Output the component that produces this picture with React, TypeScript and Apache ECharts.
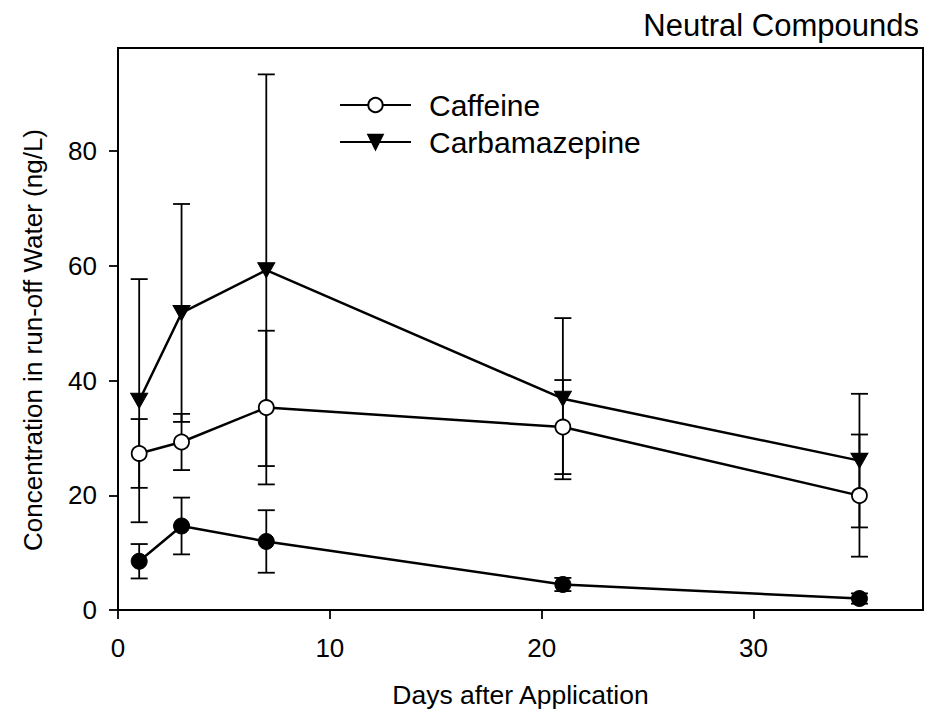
import React, { useEffect, useRef } from "react";
import * as echarts from "echarts";

const days = [1, 3, 7, 21, 35];
const caffeine = [27.3, 29.3, 35.3, 31.9, 19.95];
const caffeineErr = [6.0, 4.9, 13.4, 8.2, 10.65];
const carbamazepine = [36.5, 51.8, 59.25, 36.85, 26.05];
const carbamazepineErr = [21.2, 19.0, 34.15, 14.05, 11.65];
const thirdCompound = [8.5, 14.65, 11.95, 4.45, 2.0];
const thirdCompoundErr = [3.0, 4.95, 5.45, 1.15, 0.9];
const xTicks = [0, 10, 20, 30];
const yTicks = [0, 20, 40, 60, 80];
const yTitle = "Concentration in run-off Water (ng/L)";

const FONT = "Liberation Sans, Arial, Helvetica, sans-serif";

function errData(vals: number[], errs: number[]) {
  return days.map((d, i) => [d, vals[i] - errs[i], vals[i] + errs[i]]);
}

function renderErr(params: any, api: any) {
  const x = api.value(0);
  const lo = api.value(1);
  const hi = api.value(2);
  const pHi = api.coord([x, hi]);
  const pLo = api.coord([x, lo]);
  const w = 8.5;
  const style = { stroke: "#000", lineWidth: 1.8 };
  return {
    type: "group",
    children: [
      { type: "line", shape: { x1: pHi[0], y1: pHi[1], x2: pLo[0], y2: pLo[1] }, style },
      { type: "line", shape: { x1: pHi[0] - w, y1: pHi[1], x2: pHi[0] + w, y2: pHi[1] }, style },
      { type: "line", shape: { x1: pLo[0] - w, y1: pLo[1], x2: pLo[0] + w, y2: pLo[1] }, style },
    ],
  };
}

export default function App() {
  const ref = useRef<HTMLDivElement>(null);
  useEffect(() => {
    if (!ref.current) return;
    const chart = echarts.init(ref.current, undefined, { renderer: "svg" });
    const pts = (vals: number[]) => days.map((d, i) => [d, vals[i]]);
    chart.setOption({
      animation: false,
      backgroundColor: "#fff",
      textStyle: { fontFamily: FONT, color: "#000" },
      title: {
        text: "Neutral Compounds",
        right: 6,
        top: 10,
        padding: 0,
        textStyle: { fontFamily: FONT, fontSize: 31, fontWeight: "normal", color: "#000" },
      },
      graphic: [
        {
          type: "text",
          x: 33,
          y: 340,
          rotation: Math.PI / 2,
          style: {
            text: yTitle,
            fontFamily: FONT,
            fontSize: 26,
            fill: "#000",
            align: "center",
            verticalAlign: "middle",
          },
        },
      ],
      legend: {
        data: ["Caffeine", "Carbamazepine"],
        orient: "vertical",
        left: 339,
        top: 90,
        padding: 0,
        itemWidth: 71,
        itemHeight: 18,
        itemGap: 7,
        textStyle: {
          fontFamily: FONT,
          fontSize: 30,
          color: "#000",
          padding: [0, 0, 0, 13],
        },
      },
      grid: {
        left: 118,
        right: 2,
        top: 48,
        bottom: 102,
        show: true,
        borderColor: "#000",
        borderWidth: 2,
        backgroundColor: "transparent",
      },
      xAxis: {
        type: "value",
        min: 0,
        max: 38,
        name: "Days after Application",
        nameLocation: "middle",
        nameGap: 71,
        nameTextStyle: { fontFamily: FONT, fontSize: 26.5, color: "#000" },
        axisLine: { show: true, lineStyle: { color: "#000", width: 2 } },
        axisTick: { show: true, length: 9, inside: false, customValues: xTicks, lineStyle: { color: "#000", width: 1.8 } },
        axisLabel: { customValues: xTicks, margin: 25, fontFamily: FONT, fontSize: 26, color: "#000" },
        splitLine: { show: false },
      },
      yAxis: {
        type: "value",
        min: 0,
        max: 98,
        axisLine: { show: true, lineStyle: { color: "#000", width: 2 } },
        axisTick: { show: true, length: 9, inside: false, customValues: yTicks, lineStyle: { color: "#000", width: 1.8 } },
        axisLabel: { customValues: yTicks, margin: 21, fontFamily: FONT, fontSize: 26, color: "#000" },
        splitLine: { show: false },
      },
      series: [
        {
          type: "custom",
          name: "Caffeine error",
          renderItem: renderErr,
          data: errData(caffeine, caffeineErr),
          encode: { x: 0, y: [1, 2] },
          z: 2,
          silent: true,
        },
        {
          type: "custom",
          name: "Carbamazepine error",
          renderItem: renderErr,
          data: errData(carbamazepine, carbamazepineErr),
          encode: { x: 0, y: [1, 2] },
          z: 2,
          silent: true,
        },
        {
          type: "custom",
          name: "Third compound error",
          renderItem: renderErr,
          data: errData(thirdCompound, thirdCompoundErr),
          encode: { x: 0, y: [1, 2] },
          z: 2,
          silent: true,
        },
        {
          type: "line",
          name: "Caffeine",
          data: pts(caffeine),
          symbol: "circle",
          symbolSize: 15,
          showAllSymbol: true,
          lineStyle: { color: "#000", width: 2.5 },
          itemStyle: { color: "#fff", borderColor: "#000", borderWidth: 1.8 },
          z: 3,
        },
        {
          type: "line",
          name: "Carbamazepine",
          data: pts(carbamazepine),
          symbol: "triangle",
          symbolRotate: 180,
          symbolSize: [17, 15],
          lineStyle: { color: "#000", width: 2.5 },
          itemStyle: { color: "#000", borderColor: "#000", borderWidth: 1 },
          z: 3,
        },
        {
          type: "line",
          name: "Third compound",
          data: pts(thirdCompound),
          symbol: "circle",
          symbolSize: 16,
          lineStyle: { color: "#000", width: 2.5 },
          itemStyle: { color: "#000", borderColor: "#000", borderWidth: 1 },
          z: 3,
        },
      ],
    });
    return () => chart.dispose();
  }, []);
  return (
    <div
      ref={ref}
      style={{ position: "fixed", left: 0, top: 0, width: 925, height: 713, background: "#fff" }}
    />
  );
}
